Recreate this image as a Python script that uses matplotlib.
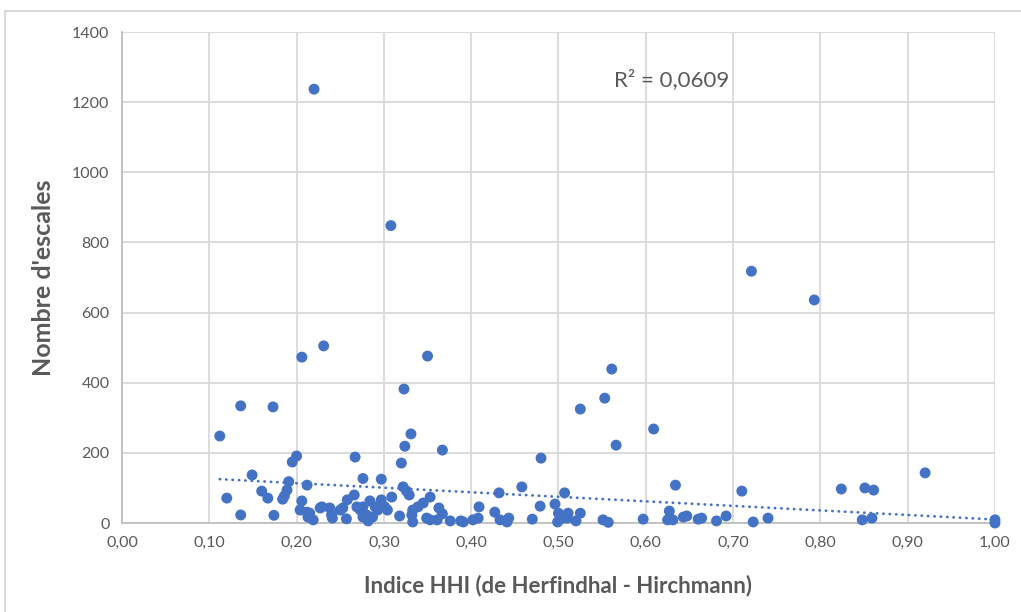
import matplotlib
matplotlib.use("Agg")
import matplotlib.pyplot as plt
import numpy as np
from matplotlib.patches import Rectangle
from matplotlib.ticker import FuncFormatter

# HHI index / number of calls
hhi = [
    0.220, 0.308, 0.721, 0.793, 0.206, 0.231, 0.350, 0.323, 0.561, 0.553,
    0.525, 0.609, 0.566, 0.136, 0.173, 0.112, 0.331, 0.324, 0.320, 0.367,
    0.200, 0.195, 0.267, 0.480, 0.149, 0.920,
    0.120, 0.160, 0.167, 0.191, 0.189, 0.186, 0.184, 0.136, 0.174, 0.212,
    0.276, 0.297, 0.309, 0.206, 0.204, 0.212, 0.213, 0.219, 0.215, 0.227,
    0.229, 0.238, 0.240, 0.241, 0.250, 0.253, 0.258, 0.257, 0.266, 0.269,
    0.273, 0.276, 0.276, 0.280, 0.282, 0.284, 0.287, 0.290, 0.293, 0.297,
    0.301, 0.304, 0.322, 0.326, 0.329, 0.353, 0.345, 0.339, 0.333, 0.332,
    0.333, 0.318, 0.349, 0.353, 0.363, 0.367, 0.361, 0.376, 0.388, 0.391,
    0.402, 0.408, 0.409, 0.432, 0.458, 0.507, 0.479, 0.496, 0.427, 0.433,
    0.443, 0.441, 0.470, 0.500, 0.499, 0.511, 0.510, 0.505, 0.525, 0.520,
    0.551, 0.557, 0.597, 0.627, 0.625, 0.631, 0.634, 0.710, 0.824, 0.851,
    0.861, 0.643, 0.647, 0.660, 0.664, 0.681, 0.692, 0.723, 0.740, 0.848,
    0.859, 1.000, 1.000,
]
escales = [
    1237, 848, 718, 636, 473, 505, 476, 382, 439, 356,
    325, 268, 222, 334, 331, 248, 254, 219, 171, 208,
    191, 174, 188, 185, 137, 143,
    71, 91, 71, 118, 94, 77, 68, 23, 22, 108,
    127, 125, 74, 63, 37, 31, 17, 9, 28, 43,
    46, 43, 23, 14, 37, 43, 66, 12, 80, 46,
    37, 46, 17, 23, 6, 63, 17, 46, 37, 66,
    46, 37, 103, 91, 80, 74, 57, 46, 37, 23,
    3, 20, 14, 9, 43, 26, 9, 6, 6, 3,
    9, 14, 46, 86, 103, 86, 48, 54, 31, 9,
    14, 3, 11, 28, 3, 28, 14, 14, 28, 6,
    9, 2, 11, 34, 9, 9, 108, 91, 97, 100,
    94, 17, 20, 11, 14, 6, 20, 3, 14, 9,
    14, 9, 0,
]
# linear trend as shown in the picture (Excel fit on the full data set)
trend_slope = -129.5
trend_intercept = 139.5
r2_label = "R² = 0,0609"

blue = "#4472C4"
grey_txt = "#595959"
grid_col = "#D9D9D9"

plt.rcParams['font.family'] = ['Lato', 'DejaVu Sans']

fig = plt.figure(figsize=(10.21, 6.12), dpi=100)
ax = fig.add_axes([0.1195, 0.1454, 0.855, 0.8023])

# outer chart frame
fig.patches.append(Rectangle((5 / 1021, -0.05), 1.1, (612 - 11) / 612 + 0.05,
                             transform=fig.transFigure, fill=False,
                             edgecolor=grid_col, lw=1.5, zorder=0))

x = np.array(hhi)
y = np.array(escales)
ax.scatter(x, y, s=62, color=blue, edgecolors="none", zorder=3, clip_on=False)

xt = np.array([x.min(), x.max()])
ax.plot(xt, trend_slope * xt + trend_intercept, color=blue, lw=2.0,
        linestyle=(0, (0.1, 2.2)), dash_capstyle="round", zorder=2)

ax.text(0.63, 1263, r2_label, fontsize=16, color=grey_txt,
        ha="center", va="center")

ax.set_xlim(0, 1)
ax.set_ylim(0, 1400)
ax.set_xticks(np.arange(0, 1.01, 0.1))
ax.set_yticks(np.arange(0, 1401, 200))
ax.xaxis.set_major_formatter(FuncFormatter(lambda v, p: f"{v:.2f}".replace(".", ",")))
ax.grid(True, color=grid_col, lw=1.3)
ax.set_axisbelow(True)
ax.tick_params(length=0, labelsize=11.5, labelcolor=grey_txt, pad=9)
for s in ("top", "right"):
    ax.spines[s].set_visible(False)
for s in ("left", "bottom"):
    ax.spines[s].set_color("#BFBFBF")
    ax.spines[s].set_linewidth(1.3)

ax.set_xlabel("Indice HHI (de Herfindhal - Hirchmann)", fontsize=16,
              fontweight="bold", color=grey_txt, labelpad=18)
ax.set_ylabel("Nombre d'escales", fontsize=18, fontweight="bold",
              color=grey_txt, labelpad=12)

fig.savefig("out.png", dpi=100)
